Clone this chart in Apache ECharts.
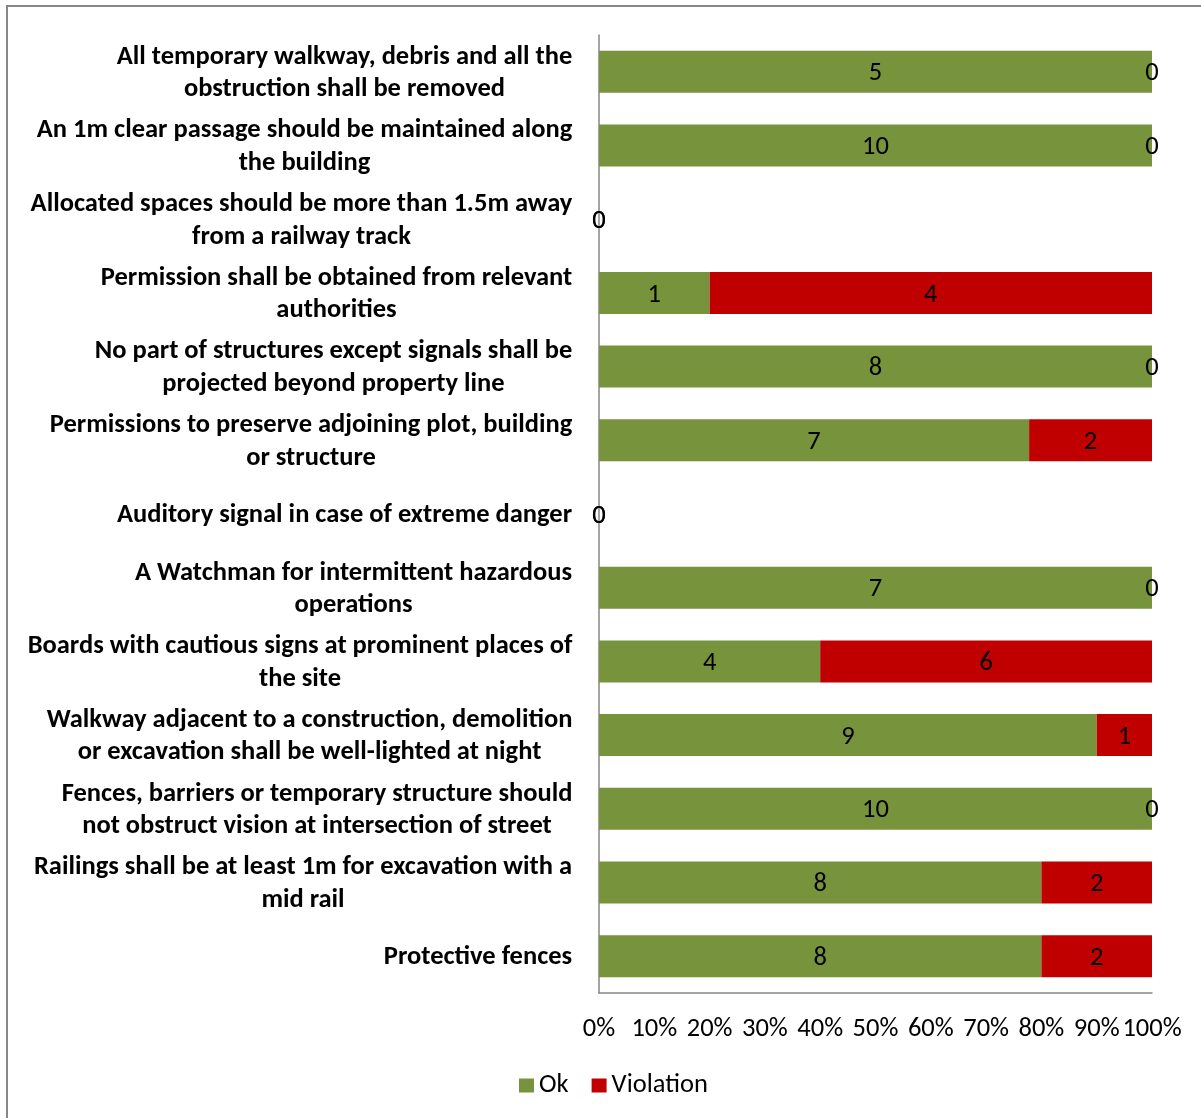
<!DOCTYPE html>
<html>
<head>
<meta charset="utf-8">
<script src="https://cdn.jsdelivr.net/npm/echarts@6/dist/echarts.min.js"></script>
<style>
  html, body { margin: 0; padding: 0; background: #fff; overflow: hidden; }
  #frame { position: absolute; left: 6px; top: 5px; width: 1400px; height: 1400px;
           border-left: 2px solid #878787; border-top: 2px solid #878787; }
  #chart { position: absolute; left: 0; top: 0; width: 1201px; height: 1118px; }
</style>
</head>
<body>
<div id="frame"></div>
<div id="chart"></div>
<script>
// Safety requirements checklist, listed top to bottom
const categories = [
  'All temporary walkway, debris and all the\nobstruction shall be removed',
  'An 1m clear passage should be maintained along\nthe building',
  'Allocated spaces should be more than 1.5m away\nfrom a railway track',
  'Permission shall be obtained from relevant\nauthorities',
  'No part of structures except signals shall be\nprojected beyond property line',
  'Permissions to preserve adjoining plot, building\nor structure',
  'Auditory signal in case of extreme danger',
  'A Watchman for intermittent hazardous\noperations',
  'Boards with cautious signs at prominent places of\nthe site',
  'Walkway adjacent to a construction, demolition\nor excavation shall be well-lighted at night',
  'Fences, barriers or temporary structure should\nnot obstruct vision at intersection of street',
  'Railings shall be at least 1m for excavation with a\nmid rail',
  'Protective fences'
];
const okCounts        = [5, 10, 0, 1, 8, 7, 0, 7, 4, 9, 10, 8, 8];
const violationCounts = [0, 0, 0, 4, 0, 2, 0, 0, 6, 1, 0, 2, 2];
const percentTicks = ['0%', '10%', '20%', '30%', '40%', '50%', '60%', '70%', '80%', '90%', '100%'];

const FONT = 'Carlito, Lato, "Liberation Sans", sans-serif';
const SIZE = 26.5;

// Share of each row, so every bar spans the full 100%
function share(arr, i) {
  const total = okCounts[i] + violationCounts[i];
  return total === 0 ? 0 : arr[i] / total * 100;
}
const okShare = okCounts.map((v, i) => share(okCounts, i));
const violationShare = violationCounts.map((v, i) => share(violationCounts, i));

// Each category label is a block whose lines are centred on each other
const ctx = document.createElement('canvas').getContext('2d');
ctx.font = 'bold ' + SIZE + 'px ' + FONT;
const rich = {};
categories.forEach((c, i) => {
  const w = Math.max(...c.split('\n').map(s => ctx.measureText(s).width));
  rich['c' + i] = { width: Math.ceil(w) + 1, align: 'center', fontWeight: 'bold',
                    fontSize: SIZE, fontFamily: FONT, color: '#000', lineHeight: 32.5 };
});

const chart = echarts.init(document.getElementById('chart'));
chart.setOption({
  animation: false,
  textStyle: { fontFamily: FONT },
  grid: { left: 599, right: 49, top: 35, bottom: 125, containLabel: false },
  xAxis: {
    type: 'value', min: 0, max: 100, interval: 10,
    axisLine: { show: true, lineStyle: { color: '#868686', width: 1.5 } },
    axisTick: { show: false },
    splitLine: { show: false },
    axisLabel: {
      margin: 23, color: '#000', fontSize: SIZE, fontFamily: FONT,
      formatter: v => percentTicks[Math.round(v / 10)]
    }
  },
  yAxis: {
    type: 'category', inverse: true, data: categories,
    axisLine: { show: true, lineStyle: { color: '#868686', width: 1.5 } },
    axisTick: { show: false },
    axisLabel: {
      margin: 26, align: 'right', interval: 0, rich: rich, padding: [3, 0, 0, 0],
      formatter: value => {
        const i = categories.indexOf(value);
        return value.split('\n').map(s => '{c' + i + '|' + s + '}').join('\n');
      }
    }
  },
  legend: {
    top: 1067, left: 514, itemWidth: 15, itemHeight: 14, itemGap: 23,
    icon: 'rect',
    textStyle: { fontSize: SIZE, color: '#000', fontFamily: FONT },
    data: ['Ok', 'Violation']
  },
  series: [
    {
      name: 'Ok', type: 'bar', stack: 'total', barCategoryGap: '43%',
      data: okShare,
      itemStyle: { color: '#77933C' },
      label: {
        show: true, position: 'inside', offset: [0, 2], color: '#000', fontSize: SIZE, fontFamily: FONT,
        formatter: p => String(okCounts[p.dataIndex])
      }
    },
    {
      name: 'Violation', type: 'bar', stack: 'total', barCategoryGap: '43%',
      data: violationShare,
      itemStyle: { color: '#C00000' },
      label: {
        show: true, position: 'inside', offset: [0, 2], color: '#000', fontSize: SIZE, fontFamily: FONT,
        formatter: p => String(violationCounts[p.dataIndex])
      }
    }
  ]
});
</script>
</body>
</html>
